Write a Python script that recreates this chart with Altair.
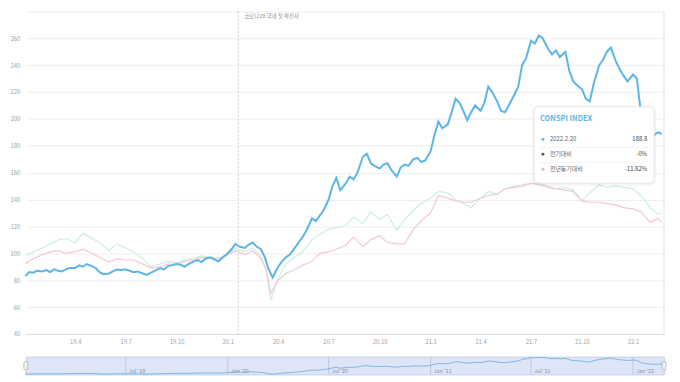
import altair as alt
import pandas as pd

FONT = "Noto Sans CJK KR"

# ---------------- data ----------------
months = [
    "2019-01", "2019-02", "2019-03", "2019-04", "2019-05", "2019-06",
    "2019-07", "2019-08", "2019-09", "2019-10", "2019-11", "2019-12",
    "2020-01", "2020-02", "2020-03", "2020-04", "2020-05", "2020-06",
    "2020-07", "2020-08", "2020-09", "2020-10", "2020-11", "2020-12",
    "2021-01", "2021-02", "2021-03", "2021-04", "2021-05", "2021-06",
    "2021-07", "2021-08", "2021-09", "2021-10", "2021-11", "2021-12",
    "2022-01", "2022-02",
]
week_days = ["01", "08", "15", "22"]
blue_dates = [f"{m}-{d}" for m in months for d in week_days]

# CONSPI INDEX (weekly readings)
blue_values = [
    83, 86, 85.5, 87,      86.5, 87.5, 86, 88,     87, 86.5, 88, 89,
    89, 91, 90, 92,        90.5, 89, 86, 84.5,     85, 86.5, 88, 87.5,
    88, 87, 86, 86.5,      85, 84, 85.5, 87,       89, 88, 90.5, 91,
    92, 91.5, 90, 92,      94, 95, 93.5, 96,       97, 95.5, 94, 96.5,
    100, 103, 107, 105,    104, 106.5, 108, 105,   103, 97, 88, 82,
    90, 94, 97, 99,        104, 108, 112, 117,     126, 124, 128, 132,
    140, 150, 156, 147,    152, 157, 155, 160,     172, 174, 167, 165,
    163, 166, 167, 162,    157, 164, 166, 165,     170, 171, 168, 169,
    176, 188, 198, 193,    196, 205, 215, 212,     206, 199, 205, 210,
    206, 212, 224, 220,    213, 206, 205, 210,     218, 224, 240, 245,
    258, 256, 262, 260,    252, 248, 251, 246,     250, 236, 228, 225,
    222, 215, 213, 226,    240, 244, 250, 253,     243, 237, 232, 228,
    233, 230, 205, 195,    191, 188, 190, 188.8,
]

semi_dates = [
    "2019-01-01", "2019-01-15", "2019-02-01", "2019-02-15", "2019-03-01", "2019-03-15",
    "2019-04-01", "2019-04-15", "2019-05-01", "2019-05-15", "2019-06-01", "2019-06-15",
    "2019-07-01", "2019-07-15", "2019-08-01", "2019-08-15", "2019-09-01", "2019-09-15",
    "2019-10-01", "2019-10-15", "2019-11-01", "2019-11-15", "2019-12-01", "2019-12-15",
    "2020-01-01", "2020-01-15", "2020-02-01", "2020-02-15", "2020-03-01", "2020-03-10",
    "2020-03-19", "2020-04-01", "2020-04-15", "2020-05-01", "2020-05-15", "2020-06-01",
    "2020-06-15", "2020-07-01", "2020-07-15", "2020-08-01", "2020-08-15", "2020-09-01",
    "2020-09-15", "2020-10-01", "2020-10-15", "2020-11-01", "2020-11-15", "2020-12-01",
    "2020-12-15",
    "2021-01-01", "2021-01-15", "2021-02-01", "2021-02-15", "2021-03-01", "2021-03-15",
    "2021-04-01", "2021-04-15", "2021-05-01", "2021-05-15", "2021-06-01", "2021-06-15",
    "2021-07-01", "2021-07-15", "2021-08-01", "2021-08-15", "2021-09-01", "2021-09-15",
    "2021-10-01", "2021-10-15", "2021-11-01", "2021-11-15", "2021-12-01", "2021-12-15",
    "2022-01-01", "2022-01-15", "2022-02-01", "2022-02-15", "2022-02-22",
]
mint_values = [
    98.5, 101, 104, 107, 110, 111, 108, 115, 111, 108, 102, 107,
    104, 101, 96, 90, 92, 94, 93, 95, 96, 98, 97, 96,
    99, 104, 101, 104, 97, 88, 65, 82, 92, 97, 101, 110,
    114, 118, 119, 121, 127, 122, 131, 125, 129, 117, 125, 132,
    137,
    141, 146, 145, 140, 137, 134, 141, 146, 144, 148, 150, 151,
    152, 152, 150, 148, 149, 147, 139, 145, 151, 149, 150, 149,
    148, 143, 134, 129, 130,
]
pink_values = [
    92.5, 96, 99, 101, 102, 100, 101, 103, 100, 97, 93.5, 96,
    95, 95, 92, 89, 90, 92, 92, 94, 95, 97, 96, 96,
    99, 102, 99, 102, 96, 88, 70.5, 80, 85, 88, 91, 94,
    100, 101, 103, 106, 112, 105, 110, 113, 108, 107, 107, 118,
    124,
    130, 143, 141, 139, 138, 138, 141, 143, 144, 148, 149, 150,
    152, 151, 149, 148, 147, 146, 139, 138, 138, 137, 136, 134,
    133, 131, 123, 126, 123,
]

y_ticks = [40, 60, 80, 100, 120, 140, 160, 180, 200, 220, 240, 260, 280]
x_ticks = [(2019, 4), (2019, 7), (2019, 10), (2020, 1), (2020, 4), (2020, 7),
           (2020, 10), (2021, 1), (2021, 4), (2021, 7), (2021, 10), (2022, 1)]
nav_tick_dates = ["2019-07-01", "2020-01-01", "2020-07-01", "2021-01-01", "2021-07-01", "2022-01-01"]
nav_tick_labels = ["Jul '19", "Jan '20", "Jul '20", "Jan '21", "Jul '21", "Jan '22"]
event_dates = ["2020-01-20"]
event_labels = ["코로나19 국내 첫 확진자"]

tip_title = "CONSPI INDEX"
tip_labels = ["2022.2.20", "전기대비", "전년동기대비"]
tip_values = ["188.8", "-0%", "-11.82%"]
tip_dot_colors = ["#5db4e6", "#5a5a5a", "#c4c4c4"]

# ---------------- frames ----------------
blue_df = pd.DataFrame({"date": blue_dates, "value": blue_values})
mint_df = pd.DataFrame({"date": semi_dates, "value": mint_values})
pink_df = pd.DataFrame({"date": semi_dates, "value": pink_values})
event_df = pd.DataFrame({"date": event_dates, "label": event_labels})
nav_df = pd.DataFrame({"date": nav_tick_dates, "label": nav_tick_labels})
one = pd.DataFrame({"k": [0]})

W = 643
H = 325
NAV_H = 18

x_dom = [alt.DateTime(year=2019, month=1, date=2), alt.DateTime(year=2022, month=2, date=26)]
x_scale = alt.Scale(domain=x_dom)

x_main = alt.X(
    "date:T", scale=x_scale, title=None,
    axis=alt.Axis(values=[alt.DateTime(year=y, month=m, date=1) for y, m in x_ticks],
                  format="%y.%-m", formatType="time", grid=False, domain=True,
                  domainColor="#dcdcdc", ticks=False, labelPadding=5, labelAngle=0),
)
y_main = alt.Y(
    "value:Q", scale=alt.Scale(domain=[40, 280], nice=False, zero=False), title=None,
    axis=alt.Axis(values=y_ticks, labelExpr="datum.value == 280 ? '' : datum.label",
                  grid=True, gridColor="#eeeeee", domain=False, ticks=False, labelPadding=6),
)

mint = alt.Chart(mint_df).mark_line(color="#cbeedf", strokeWidth=1.2).encode(x=x_main, y=y_main)
pink = alt.Chart(pink_df).mark_line(color="#f4c8d2", strokeWidth=1.2).encode(x=x_main, y=y_main)
blue = alt.Chart(blue_df).mark_line(color="#5db4e6", strokeWidth=2).encode(x=x_main, y=y_main)

event_rule = alt.Chart(event_df).mark_rule(color="#bdbdbd", strokeDash=[2, 2], strokeWidth=0.8).encode(
    x="date:T", y=alt.value(0), y2=alt.value(H))
event_text = alt.Chart(event_df).mark_text(align="left", baseline="middle", dx=6, fontSize=5.5,
                                           font=FONT, color="#8a8a8a").encode(
    x="date:T", y=alt.value(5), text="label:N")
right_border = alt.Chart(one).mark_rule(color="#e2e2e2").encode(
    x=alt.value(W), y=alt.value(0), y2=alt.value(H))


def txt(s, x, y, size=6.0, color="#555555", weight="normal", align="left"):
    return alt.Chart(pd.DataFrame({"t": [s]})).mark_text(
        align=align, baseline="middle", fontSize=size, font=FONT, color=color, fontWeight=weight
    ).encode(x=alt.value(x), y=alt.value(y), text="t:N")


TX0, TX1, TY0, TY1 = 512, 633, 96, 173
tip_layers = [
    alt.Chart(one).mark_rect(fill="#000000", opacity=0.04, cornerRadius=6).encode(
        x=alt.value(TX0 - 2), x2=alt.value(TX1 + 2), y=alt.value(TY0 - 1), y2=alt.value(TY1 + 3)),
    alt.Chart(one).mark_rect(fill="white", stroke="#e4e4e4", strokeWidth=0.8, cornerRadius=5).encode(
        x=alt.value(TX0), x2=alt.value(TX1), y=alt.value(TY0), y2=alt.value(TY1)),
    txt(tip_title, TX0 + 6, TY0 + 12, size=7.5, color="#5db4e6", weight="bold"),
]
row_y = [TY0 + 33, TY0 + 48, TY0 + 63]
for i in range(3):
    tip_layers.append(alt.Chart(one).mark_circle(size=9, opacity=1, color=tip_dot_colors[i]).encode(
        x=alt.value(TX0 + 9), y=alt.value(row_y[i])))
    tip_layers.append(txt(tip_labels[i], TX0 + 16, row_y[i], size=6, color="#666666"))
    tip_layers.append(txt(tip_values[i], TX1 - 7, row_y[i], size=6, color="#444444", align="right"))
    if i < 2:
        tip_layers.append(alt.Chart(one).mark_rule(color="#eeeeee", strokeWidth=0.8).encode(
            x=alt.value(TX0 + 6), x2=alt.value(TX1 - 6), y=alt.value(row_y[i] + 8)))

main = alt.layer(mint, pink, blue, event_rule, event_text, right_border, *tip_layers).properties(
    width=W, height=H)

# ---------------- navigator ----------------
x_nav = alt.X("date:T", scale=x_scale, axis=None)
nav_line = alt.Chart(blue_df).mark_line(color="#6aa9df", strokeWidth=0.8).encode(
    x=x_nav, y=alt.Y("value:Q", scale=alt.Scale(domain=[78, 268], zero=False, nice=False), axis=None))
nav_grid = alt.Chart(nav_df).mark_rule(color="#b4c1e0", strokeWidth=0.8).encode(
    x=x_nav, y=alt.value(0), y2=alt.value(NAV_H))
nav_text = alt.Chart(nav_df).mark_text(align="left", baseline="middle", dx=3, fontSize=5.5,
                                       font=FONT, color="#8890a6").encode(
    x=x_nav, y=alt.value(NAV_H - 4), text="label:N")
handles = [
    alt.Chart(one).mark_rect(fill="#f2f2f2", stroke="#9a9a9a", strokeWidth=0.6, cornerRadius=1).encode(
        x=alt.value(hx - 2), x2=alt.value(hx + 2), y=alt.value(5), y2=alt.value(13))
    for hx in (0, W)
]
nav = alt.layer(nav_grid, nav_line, nav_text, *handles).properties(
    width=W, height=NAV_H,
    view=alt.ViewBackground(fill="#dde5f7", stroke="#bcc8e5", strokeWidth=0.8),
)

chart = alt.vconcat(main, nav, spacing=10).properties(
    padding={"left": 2, "top": 1, "right": 5, "bottom": 0},
    background="white",
).configure_view(stroke=None).configure_axis(
    labelFont=FONT, labelFontSize=6, labelColor="#a3a3a3",
)

chart.save("out.html", embed_options={"renderer": "svg", "actions": False})
